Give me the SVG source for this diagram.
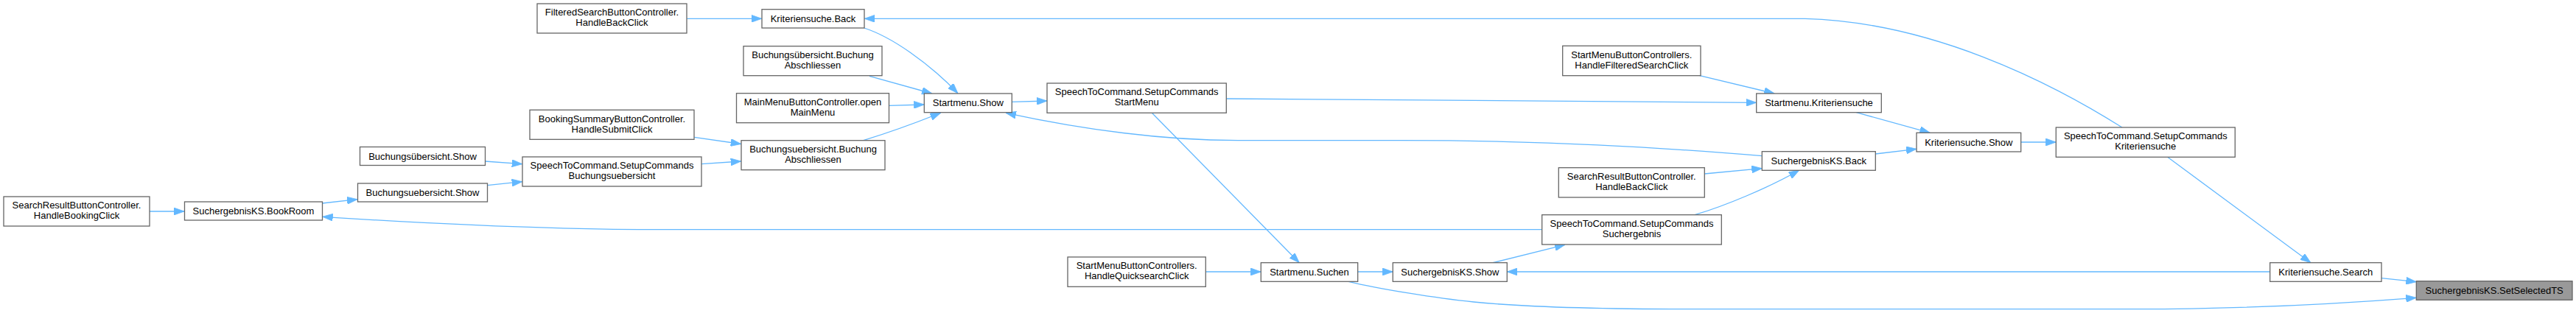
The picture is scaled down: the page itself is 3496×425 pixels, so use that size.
<svg xmlns="http://www.w3.org/2000/svg" width="3496" height="425" viewBox="0 0 3496 425">
<style>
.n rect{fill:#ffffff;stroke:#666666;stroke-width:1.3}
.n.h rect{fill:#999999}
.n text{font-family:"Liberation Sans",Arial,sans-serif;font-size:13px;fill:#000000;text-anchor:middle}
#edges path{fill:none;stroke:#63b8ff;stroke-width:1.3;marker-end:url(#arr)}
</style>
<defs>
<marker id="arr" viewBox="0 0 14 10" refX="14" refY="5" markerWidth="14" markerHeight="10" markerUnits="userSpaceOnUse" orient="auto">
<path d="M0,0 L14,5 L0,10 z" fill="#63b8ff" stroke="#63b8ff" stroke-width="0.8"/>
</marker>
</defs>
<rect width="3496" height="425" fill="#ffffff"/>
<g id="edges">
<path d="M203,287 L250,287"/>
<path d="M437.3,276 L485,270.7"/>
<path d="M2093,311.7 L900,311.7 C760,311.7 600,305 437.7,294.3"/>
<path d="M658.3,219 L708.7,222.7"/>
<path d="M661.3,251.7 L708.7,246.7"/>
<path d="M942.3,186.3 L1005.7,195.5"/>
<path d="M952,222.7 L1005.7,219"/>
<path d="M1171.7,190.7 C1200,182 1240,168 1276.7,153.3"/>
<path d="M1206.7,143.3 L1254.3,142"/>
<path d="M1180,103.3 L1265,127"/>
<path d="M1172.7,38 C1210,50 1260,85 1300,126.7"/>
<path d="M932.3,25.3 L1033.7,25.3"/>
<path d="M1373.3,138.3 L1421,137"/>
<path d="M1664.3,134 C1900,135 2200,139 2383.7,139.3"/>
<path d="M1563.3,153.3 L1763.3,356.7"/>
<path d="M1636.3,369 L1711.3,369"/>
<path d="M1842.7,369 L1890.3,369"/>
<path d="M1830,382.3 C1870,392 1950,405 2000,410 C2060,416 2150,419.7 2300,419.7 L2900,419.7 C3050,419.7 3180,412 3279.3,404.3"/>
<path d="M3232,377.7 L3279.3,382.7"/>
<path d="M3080.7,369 L2045.3,369"/>
<path d="M2941.7,213.3 L3136,356.7"/>
<path d="M2026,356.7 L2124,332.3"/>
<path d="M2300,291.7 C2340,280 2400,255 2441.7,231.3"/>
<path d="M2313.3,236 L2391.3,228.7"/>
<path d="M2391.3,211.7 C2250,200 2100,190.7 1900,190.7 L1680,190.7 C1580,190.7 1480,178 1365,153.3"/>
<path d="M2306.7,102.7 L2408.3,127"/>
<path d="M2519.3,152.7 L2619.3,180.3"/>
<path d="M2545.3,209 L2601,202.3"/>
<path d="M2742.7,193 L2790.3,193"/>
<path d="M2880,173 C2780,110 2620,30 2450,25.3 L1173.3,25.3"/>
</g>
<g id="n1" class="n"><rect x="5" y="267" width="198" height="40"/><text x="104" y="283.3">SearchResultButtonController.</text><text x="104" y="297.3">HandleBookingClick</text></g>
<g id="n2" class="n"><rect x="250.5" y="274" width="187" height="25"/><text x="344" y="291.3">SuchergebnisKS.BookRoom</text></g>
<g id="n3" class="n"><rect x="488.5" y="199.5" width="170" height="25"/><text x="573.5" y="216.8">Buchungsübersicht.Show</text></g>
<g id="n4" class="n"><rect x="485.5" y="249" width="176" height="25"/><text x="573.5" y="266.3">Buchungsuebersicht.Show</text></g>
<g id="n5" class="n"><rect x="709" y="213" width="243" height="40"/><text x="830.5" y="229.3">SpeechToCommand.SetupCommands</text><text x="830.5" y="243.3">Buchungsuebersicht</text></g>
<g id="n6" class="n"><rect x="729" y="5" width="203" height="40"/><text x="830.5" y="21.3">FilteredSearchButtonController.</text><text x="830.5" y="35.3">HandleBackClick</text></g>
<g id="n7" class="n"><rect x="719" y="149.3" width="223" height="40"/><text x="830.5" y="165.6">BookingSummaryButtonController.</text><text x="830.5" y="179.6">HandleSubmitClick</text></g>
<g id="n8" class="n"><rect x="1034" y="12.7" width="139" height="25.3"/><text x="1103.5" y="30">Kriteriensuche.Back</text></g>
<g id="n9" class="n"><rect x="1009" y="62.7" width="188" height="40"/><text x="1103" y="79">Buchungsübersicht.Buchung</text><text x="1103" y="93">Abschliessen</text></g>
<g id="n10" class="n"><rect x="999.5" y="126.7" width="207" height="40"/><text x="1103" y="143">MainMenuButtonController.open</text><text x="1103" y="157">MainMenu</text></g>
<g id="n11" class="n"><rect x="1006" y="190.7" width="195" height="40"/><text x="1103.5" y="207">Buchungsuebersicht.Buchung</text><text x="1103.5" y="221">Abschliessen</text></g>
<g id="n12" class="n"><rect x="1254.3" y="127" width="119" height="25.7"/><text x="1313.8" y="144.3">Startmenu.Show</text></g>
<g id="n13" class="n"><rect x="1421" y="113" width="243.3" height="40.3"/><text x="1542.7" y="129.3">SpeechToCommand.SetupCommands</text><text x="1542.7" y="143.3">StartMenu</text></g>
<g id="n14" class="n"><rect x="1449" y="349" width="187.3" height="40.3"/><text x="1542.7" y="365.3">StartMenuButtonControllers.</text><text x="1542.7" y="379.3">HandleQuicksearchClick</text></g>
<g id="n15" class="n"><rect x="1711.3" y="356.7" width="131.4" height="25.6"/><text x="1777" y="374">Startmenu.Suchen</text></g>
<g id="n16" class="n"><rect x="1890.3" y="356.7" width="155" height="25.6"/><text x="1967.8" y="374">SuchergebnisKS.Show</text></g>
<g id="n17" class="n"><rect x="2120.7" y="62.3" width="187.3" height="40.4"/><text x="2214.3" y="78.6">StartMenuButtonControllers.</text><text x="2214.3" y="92.6">HandleFilteredSearchClick</text></g>
<g id="n18" class="n"><rect x="2383.7" y="127" width="169.6" height="25.7"/><text x="2468.5" y="144.3">Startmenu.Kriteriensuche</text></g>
<g id="n19" class="n"><rect x="2391.3" y="205.7" width="154" height="25.6"/><text x="2468.3" y="223">SuchergebnisKS.Back</text></g>
<g id="n20" class="n"><rect x="2115.3" y="227.7" width="198" height="40.3"/><text x="2214.3" y="244">SearchResultButtonController.</text><text x="2214.3" y="258">HandleBackClick</text></g>
<g id="n21" class="n"><rect x="2092.7" y="291.7" width="243.6" height="40.3"/><text x="2214.5" y="308">SpeechToCommand.SetupCommands</text><text x="2214.5" y="322">Suchergebnis</text></g>
<g id="n22" class="n"><rect x="2601" y="180.3" width="141.7" height="25.7"/><text x="2671.8" y="197.6">Kriteriensuche.Show</text></g>
<g id="n23" class="n"><rect x="2790.3" y="173" width="243" height="40.3"/><text x="2911.8" y="189.3">SpeechToCommand.SetupCommands</text><text x="2911.8" y="203.3">Kriteriensuche</text></g>
<g id="n24" class="n"><rect x="3080.7" y="356.7" width="151.3" height="25.6"/><text x="3156.3" y="374">Kriteriensuche.Search</text></g>
<g id="n25" class="n h"><rect x="3279.3" y="381.7" width="211.7" height="25.6"/><text x="3385.2" y="399">SuchergebnisKS.SetSelectedTS</text></g>
</svg>
